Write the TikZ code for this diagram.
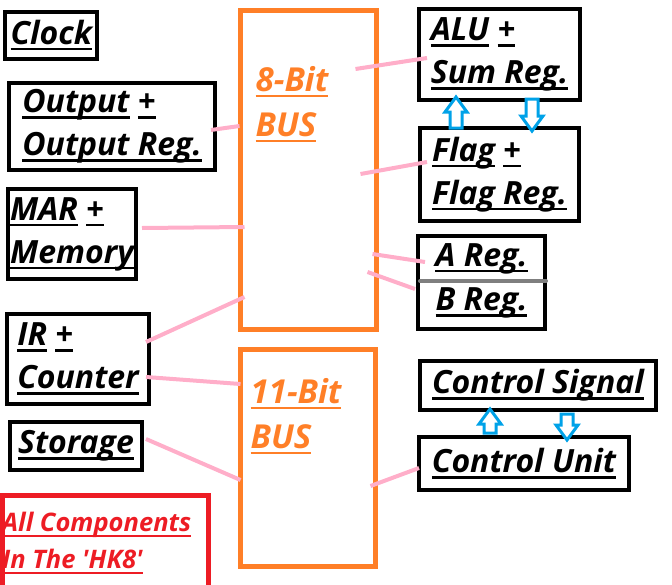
\documentclass[tikz,border=0pt]{standalone}
\usepackage{fontspec}
\setmainfont{Open Sans}
\usetikzlibrary{calc}
\definecolor{paintorange}{RGB}{255,127,39}
\definecolor{paintpink}{RGB}{255,174,201}
\definecolor{paintblue}{RGB}{0,162,232}
\definecolor{paintred}{RGB}{237,28,36}
\definecolor{paintgray}{RGB}{127,127,127}
% underline one word (or group) at a fixed depth
\newcommand\hku[1]{\setbox0\hbox{#1}\rlap{\rule[-6pt]{\wd0}{2.5pt}}\box0\relax}
% hollow block arrow from #1 (base) to #2 (tip); #3 = 1 down, -1 up
\newcommand\hkarrow[3]{%
  \draw[flow] ($(#1)+(-6,0)$) -- ($(#2)+(-6,{-(#3)*15})$) -- ($(#2)+(-11,{-(#3)*15})$) -- (#2)
    -- ($(#2)+(11,{-(#3)*15})$) -- ($(#2)+(6,{-(#3)*15})$) -- ($(#1)+(6,0)$) -- cycle;}
\begin{document}
\begin{tikzpicture}[x=1pt, y=-1pt,
  part/.style={draw, line width=4pt, inner sep=0pt, align=left, font=\fontsize{32}{43}\selectfont\bfseries\itshape},
  reg/.style={part, draw=none},
  bus/.style={draw=paintorange, line width=5pt, inner sep=0pt},
  buslabel/.style={anchor=west, inner sep=0pt, align=left, text=paintorange, font=\fontsize{33}{45}\selectfont\bfseries\itshape},
  note/.style={anchor=west, inner sep=0pt, align=left, text=paintred, font=\fontsize{25.5}{37}\selectfont\bfseries\itshape},
  wire/.style={paintpink, line width=4pt},
  flow/.style={draw=paintblue, line width=3pt, fill=white, line join=miter}]

  \useasboundingbox (0,0) rectangle (672,584);

  % left column
  \node[part, minimum width=92pt, minimum height=47pt]  (clock) at (51.3,35.3) {\hku{Clock}};
  \node[part, minimum width=206pt, minimum height=87pt] (out)   at (112,126.5) {\hku{Output} \hku{+}\\\hku{Output Reg.}};
  \node[part, minimum width=128pt, minimum height=90pt] (mar)   at (72,234)    {\hku{MAR} \hku{+}\\\hku{Memory}};
  \node[part, minimum width=142pt, minimum height=90pt] (ir)    at (78,359)    {\hku{IR} \hku{+}\\\hku{Counter}};
  \node[part, minimum width=132pt, minimum height=48pt] (stor)  at (76,446)    {\hku{Storage}};

  % buses
  \node[bus, minimum width=136pt, minimum height=319pt] (bus8)  at (308,169.5) {};
  \node[bus, minimum width=135pt, minimum height=217pt] (bus11) at (307.5,457.5) {};
  \node[buslabel] (bus8lbl)  at ($(bus8.north west)+(18,96.5)$)  {\hku{8-Bit}\\\hku{BUS}};
  \node[buslabel] (bus11lbl) at ($(bus11.north west)+(13,69.5)$) {\hku{11-Bit}\\\hku{BUS}};

  % right column
  \node[part, minimum width=161pt, minimum height=91pt] (alu)   at (499.5,54.5)  {\hku{ALU} \hku{+}\\\hku{Sum Reg.}};
  \node[part, minimum width=159pt, minimum height=93pt] (flag)  at (499.5,174.5) {\hku{Flag} \hku{+}\\\hku{Flag Reg.}};
  \node[reg, minimum width=123pt, minimum height=41pt]  (areg)  at (481.5,258.5) {\hku{A Reg.}};
  \node[reg, minimum width=123pt, minimum height=48pt]  (breg)  at (481.5,303)   {\hku{B Reg.}};
  \draw[line width=4pt] (areg.north west) rectangle (breg.south east);
  \draw[paintgray, line width=4pt, line cap=round] ($(areg.south west)+(2,0)$) -- ($(areg.south east)+(1,0)$);
  \node[part, minimum width=236pt, minimum height=49pt] (csig)  at (538,385.5) {\hku{Control Signal}};
  \node[part, minimum width=210pt, minimum height=53pt] (cunit) at (524,463.5) {\hku{Control Unit}};

  % note
  \node[note] (note) at (2,543) {\hku{All Components}\\\hku{In The \textquotesingle HK8\textquotesingle}};
  \draw[paintred, line width=5pt] (2.5,600) |- (208.5,495.5) -- (208.5,600);

  % wires to the buses
  \draw[wire] ($(out.east)+(-6,3.5)$)   -- ($(bus8.west)+(2,-43.5)$);
  \draw[wire] ($(mar.east)+(4,-6)$)     -- ($(bus8.west)+(7,57.5)$);
  \draw[wire] ($(ir.east)+(-5,-17)$)    -- ($(bus8.west)+(7,127.5)$);
  \draw[wire] ($(ir.east)+(-5,18)$)     -- ($(bus11.west)+(3,-73.5)$);
  \draw[wire] ($(stor.east)+(2,-7)$)    -- ($(bus11.west)+(3,22.5)$);
  \draw[wire] ($(bus8.east)+(-23,-100.5)$) -- ($(alu.west)+(10,3.5)$);
  \draw[wire] ($(bus8.east)+(-18,4.5)$)    -- ($(flag.west)+(9,-12.5)$);
  \draw[wire] ($(bus8.east)+(-6,84.5)$)    -- ($(areg.west)+(7,3.5)$);
  \draw[wire] ($(bus8.east)+(-11,102.5)$)  -- ($(breg.west)+(-3,-14)$);
  \draw[wire] ($(bus11.east)+(-7,28.5)$)   -- ($(cunit.west)+(2,4.5)$);

  % flow arrows
  \coordinate (flagtop) at ($(flag.north)+(-43.5,2)$);
  \coordinate (alubot)  at ($(alu.south)+(-43.5,-5)$);
  \coordinate (aluout)  at ($(alu.south)+(32.5,-3)$);
  \coordinate (flagin)  at ($(flag.north)+(32.5,5)$);
  \coordinate (unittop) at ($(cunit.north)+(-34,-2)$);
  \coordinate (sigbot)  at ($(csig.south)+(-48,-3)$);
  \coordinate (sigout)  at ($(csig.south)+(29,2)$);
  \coordinate (unitin)  at ($(cunit.north)+(43,5)$);
  \hkarrow{flagtop}{alubot}{-1}
  \hkarrow{aluout}{flagin}{1}
  \hkarrow{unittop}{sigbot}{-1}
  \hkarrow{sigout}{unitin}{1}
\end{tikzpicture}
\end{document}
